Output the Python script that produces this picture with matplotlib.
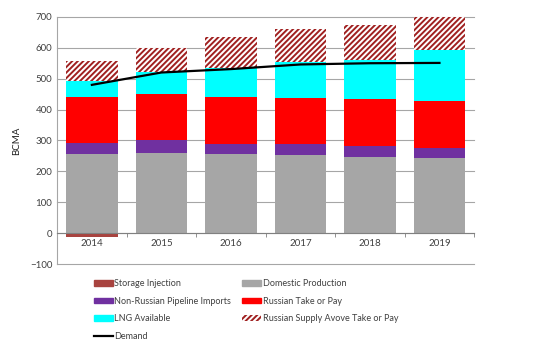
import numpy as np
import matplotlib.pyplot as plt
from matplotlib.patches import Patch
from matplotlib.lines import Line2D

plt.rcParams['font.family'] = ['Lato', 'DejaVu Sans']
plt.rcParams['hatch.linewidth'] = 1.4

years = ['2014', '2015', '2016', '2017', '2018', '2019']
storage = [-13, 0, 0, 0, 0, 0]
domestic = [257, 260, 257, 253, 246, 242]
non_russian = [35, 41, 33, 35, 37, 34]
russian_top = [150, 148, 150, 149, 150, 151]
lng = [49, 71, 95, 117, 127, 167]
russian_above = [67, 80, 99, 107, 115, 105]
demand = [480, 520, 531, 546, 550, 551]

fig = plt.figure(figsize=(5.34, 3.52), dpi=100)
ax = fig.add_axes([0.107, 0.25, 0.781, 0.702])

x = np.arange(len(years))
w = 0.74
ax.bar(x, storage, w, color='#a8433f', zorder=3)
b = np.zeros(len(years))
ax.bar(x, domestic, w, bottom=b, color='#a6a6a6', zorder=3)
b += domestic
ax.bar(x, non_russian, w, bottom=b, color='#7030a0', zorder=3)
b += non_russian
ax.bar(x, russian_top, w, bottom=b, color='#ff0000', zorder=3)
b += russian_top
ax.bar(x, lng, w, bottom=b, color='#00ffff', zorder=3)
b += lng
ax.bar(x, russian_above, w, bottom=b, color='white', edgecolor='#a02020',
       hatch='//////', linewidth=0, zorder=3)
ax.plot(x, demand, color='black', lw=1.6, zorder=4)

ax.set_xlim(-0.5, len(years) - 0.5)
ax.set_ylim(-100, 700)
ax.set_yticks(range(-100, 701, 100))
for yv in range(-100, 701, 100):
    ax.axhline(yv, color='#a6a6a6', lw=0.8, zorder=0, clip_on=False)

for s in ['top', 'right']:
    ax.spines[s].set_visible(False)
ax.spines['left'].set_color('#a6a6a6')
ax.spines['bottom'].set_color('#808080')
ax.spines['bottom'].set_position(('data', 0))
ax.spines['bottom'].set_zorder(5)

ax.set_xticks(x)
ax.set_xticklabels(years)
ax.set_xticks(np.arange(-0.5, len(years)), minor=True)
ax.tick_params(axis='x', which='major', length=0, labelsize=7, labelcolor='#404040', pad=4)
ax.tick_params(axis='x', which='minor', length=3, color='#808080', direction='out')
ax.tick_params(axis='y', length=0, labelsize=7, labelcolor='#404040')
ax.set_ylabel('BCMA', fontsize=7, color='#202020', labelpad=6)

handles = [
    Patch(color='#a8433f', label='Storage Injection'),
    Patch(color='#7030a0', label='Non-Russian Pipeline Imports'),
    Patch(color='#00ffff', label='LNG Available'),
    Line2D([], [], color='black', lw=1.6, label='Demand'),
    Patch(color='#a6a6a6', label='Domestic Production'),
    Patch(color='#ff0000', label='Russian Take or Pay'),
    Patch(facecolor='white', edgecolor='#a02020', hatch='//////', lw=0,
          label='Russian Supply Avove Take or Pay'),
]
fig.legend(handles=handles, ncol=2, loc='upper left', bbox_to_anchor=(0.16, 0.23),
           frameon=False, fontsize=6.5, handlelength=2.1, handleheight=0.6,
           handletextpad=0.2, columnspacing=1.2, labelspacing=0.95,
           labelcolor='#404040')

fig.savefig('out.png', dpi=100)
